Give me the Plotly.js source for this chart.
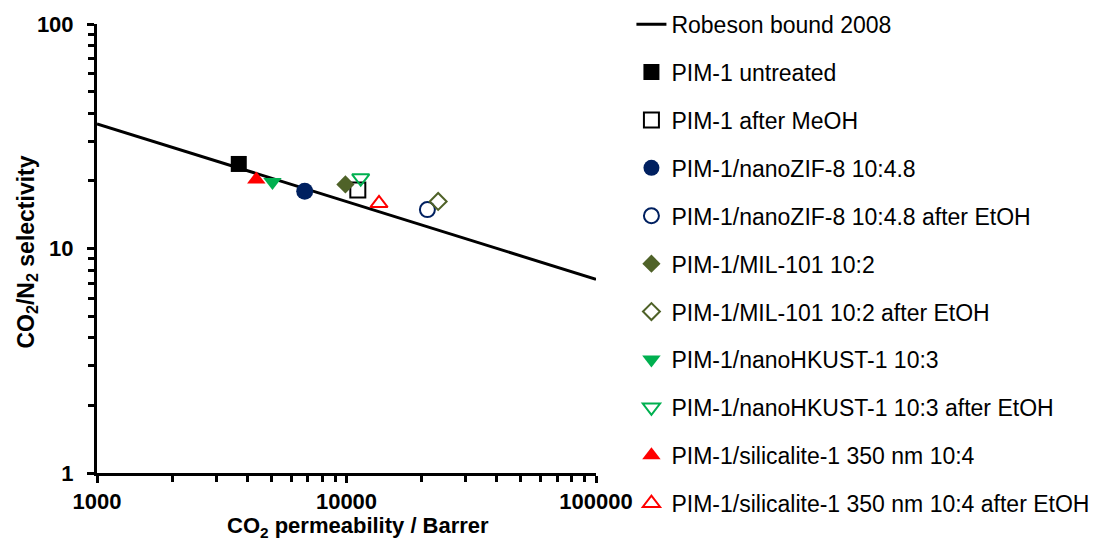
<!DOCTYPE html>
<html>
<head>
<meta charset="utf-8">
<script src="https://cdn.plot.ly/plotly-3.0.1.min.js"></script>
<style>html,body{margin:0;padding:0;background:#fff;}#chart{width:1093px;height:541px;}</style>
</head>
<body>
<div id="chart"></div>
<script>
// Robeson upper bound 2008 (CO2/N2), end points
const robesonX = [1000, 100000];
const robesonY = [35.9, 7.29];

const seriesNames = [
  "PIM-1 untreated",
  "PIM-1 after MeOH",
  "PIM-1/nanoZIF-8 10:4.8",
  "PIM-1/nanoZIF-8 10:4.8 after EtOH",
  "PIM-1/MIL-101 10:2",
  "PIM-1/MIL-101 10:2 after EtOH",
  "PIM-1/nanoHKUST-1 10:3",
  "PIM-1/nanoHKUST-1 10:3 after EtOH",
  "PIM-1/silicalite-1 350 nm 10:4",
  "PIM-1/silicalite-1 350 nm 10:4 after EtOH"
];
// CO2 permeability / Barrer
const permeability = [3700, 11100, 6800, 21100, 9900, 23300, 5050, 11400, 4350, 13500];
// CO2/N2 selectivity
const selectivity = [23.8, 18.2, 18.0, 14.9, 19.3, 16.2, 19.8, 20.6, 20.3, 15.9];

const xTitle = "<b>CO<sub>2</sub> permeability / Barrer</b>";
const yTitle = "<b>CO<sub>2</sub>/N<sub>2</sub> selectivity</b>";

const symbols = ["square","square-open","circle","circle-open","diamond","diamond-open","triangle-down","triangle-down-open","triangle-up","triangle-up-open"];
const colors = ["#000000","#000000","#002060","#002060","#4F6228","#4F6228","#00B050","#00B050","#FF0000","#FF0000"];
const sizes = [16,15,17,15,14,13,16,15,16,15];

const traces = [{
  x: robesonX, y: robesonY, mode: "lines", name: "Robeson bound 2008",
  line: {color: "#000", width: 3}, legendgroup: "g0"
}];
seriesNames.forEach((n, i) => {
  traces.push({
    x: [permeability[i]], y: [selectivity[i]], mode: "markers", name: n,
    legendgroup: "g" + (i + 1),
    marker: {symbol: symbols[i], color: colors[i], size: sizes[i],
             line: {color: colors[i], width: symbols[i].endsWith("open") ? 2 : 0}}
  });
});

const FONT = "Liberation Sans, Arial, sans-serif";
const tickFont = {family: FONT, size: 22, color: "#000", weight: "bold"};
const layout = {
  width: 1093, height: 541,
  margin: {l: 97, r: 497, t: 24, b: 68, autoexpand: false},
  paper_bgcolor: "#fff", plot_bgcolor: "#fff",
  showlegend: true,
  legend: {x: 1.071, xref: "paper", y: 0.995, yref: "container", xanchor: "left", yanchor: "top",
           maxheight: 541,
           font: {family: FONT, size: 23, color: "#000"},
           tracegroupgap: 15, itemsizing: "trace", bgcolor: "rgba(0,0,0,0)"},
  xaxis: {
    type: "log", range: [3, 5], dtick: 1,
    showgrid: false, zeroline: false,
    showline: true, linecolor: "#000", linewidth: 3,
    ticks: "outside", ticklen: 7, tickwidth: 3, tickcolor: "#000",
    tickfont: tickFont, tickformat: "d", ticklabelstandoff: 0,
    minor: {dtick: "D1", ticks: "outside", ticklen: 6, tickwidth: 3, tickcolor: "#000", showgrid: false}
  },
  yaxis: {
    type: "log", range: [0, 2], dtick: 1,
    showgrid: false, zeroline: false,
    showline: true, linecolor: "#000", linewidth: 3,
    ticks: "outside", ticklen: 7, tickwidth: 3, tickcolor: "#000",
    tickfont: tickFont, tickformat: "d", ticklabelstandoff: 9,
    minor: {dtick: "D1", ticks: "outside", ticklen: 6, tickwidth: 3, tickcolor: "#000", showgrid: false}
  },
  annotations: [
    {text: xTitle, xref: "paper", yref: "paper", x: (358 - 97) / 499, y: 0,
     xanchor: "center", yanchor: "bottom", yshift: -69, borderpad: 0, showarrow: false,
     font: {family: FONT, size: 22, color: "#000"}},
    {text: yTitle, xref: "paper", yref: "paper", x: 0, y: 0.5, textangle: -90,
     xanchor: "center", yanchor: "middle", xshift: -70, yshift: -4, showarrow: false,
     font: {family: FONT, size: 23, color: "#000"}}
  ]
};
Plotly.newPlot("chart", traces, layout, {displayModeBar: false, staticPlot: true});
</script>
</body>
</html>
